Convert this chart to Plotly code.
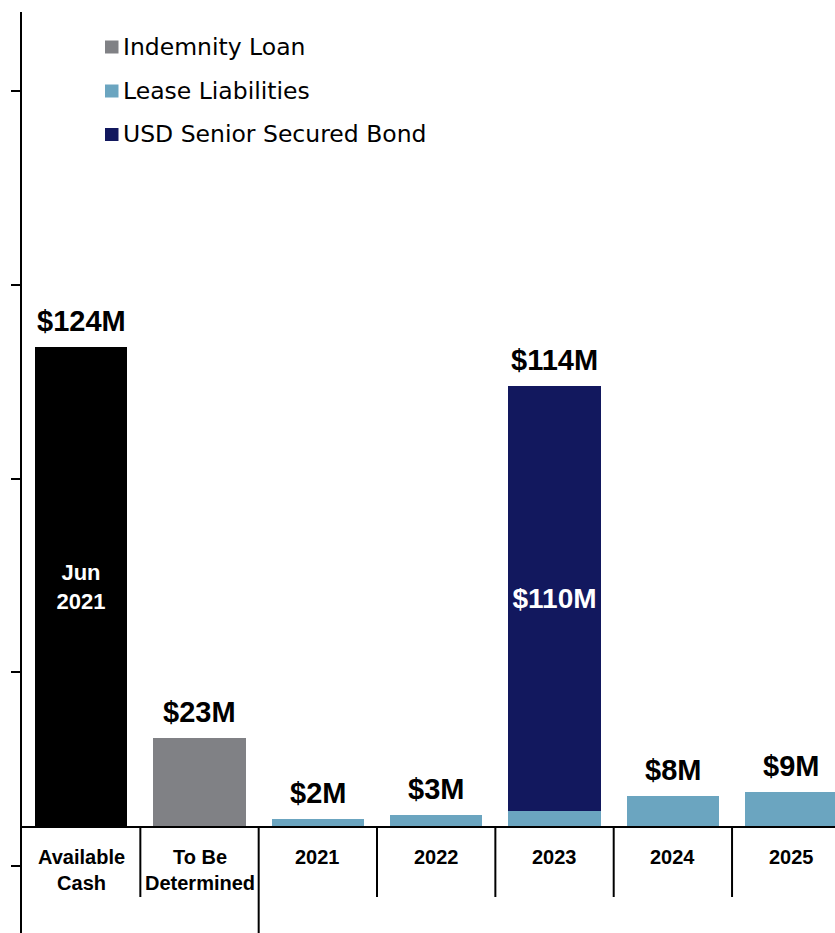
import plotly.graph_objects as go

# Categories along the x axis
categories = ["Available Cash", "To Be Determined", "2021", "2022", "2023", "2024", "2025"]
category_labels = ["Available<br>Cash", "To Be<br>Determined", "2021", "2022", "2023", "2024", "2025"]

# Values in $M
cash_x = ["Available Cash"]
cash_vals = [124]
indemnity_x = ["To Be Determined"]
indemnity_vals = [23]
lease_x = ["2021", "2022", "2023", "2024", "2025"]
lease_vals = [2, 3, 4, 8, 9]
bond_x = ["2023"]
bond_vals = [110]

legend_names = ["Indemnity Loan", "Lease Liabilities", "USD Senior Secured Bond"]

C_CASH = "#000000"
C_INDEM = "#808185"
C_LEASE = "#6BA5C0"
C_BOND = "#12185E"

FONT = "Liberation Sans, Arial, sans-serif"
LEGEND_FONT = "DejaVu Sans, Verdana, sans-serif"
W, H = 835, 933
ML, MT = 22, 12
Y_MIN, Y_MAX = -27.4, 210.5
X_MIN, X_MAX = -0.5, 6.37
BAR_W = 0.78

fig = go.Figure()
fig.add_trace(go.Bar(x=cash_x, y=cash_vals, marker=dict(color=C_CASH, line=dict(width=0)),
                     width=BAR_W, text=["Jun<br>2021"], textposition="inside",
                     insidetextanchor="middle", textangle=0,
                     textfont=dict(color="white", size=22, family=FONT, weight="bold"),
                     name="Available Cash", showlegend=False))
fig.add_trace(go.Bar(x=indemnity_x, y=indemnity_vals, marker=dict(color=C_INDEM, line=dict(width=0)),
                     width=BAR_W, name=legend_names[0], showlegend=False))
fig.add_trace(go.Bar(x=lease_x, y=lease_vals, marker=dict(color=C_LEASE, line=dict(width=0)),
                     width=BAR_W, name=legend_names[1], showlegend=False))
fig.add_trace(go.Bar(x=bond_x, y=bond_vals, marker=dict(color=C_BOND, line=dict(width=0)),
                     width=BAR_W, text=[f"${v}M" for v in bond_vals], textposition="inside",
                     insidetextanchor="middle", textangle=0,
                     textfont=dict(color="white", size=28, family=FONT, weight="bold"),
                     name=legend_names[2], showlegend=False))

# Totals per category for the value labels above each stack
totals = {c: 0 for c in categories}
for xs, vs in [(cash_x, cash_vals), (indemnity_x, indemnity_vals), (lease_x, lease_vals), (bond_x, bond_vals)]:
    for x, v in zip(xs, vs):
        totals[x] += v

annotations = []
# annotations on a category axis are placed by category index
for i, c in enumerate(categories):
    annotations.append(dict(x=i, y=totals[c], xref="x", yref="y", text=f"<b>${totals[c]}M</b>",
                            showarrow=False, yanchor="middle", yshift=26,
                            font=dict(size=29, color="black", family=FONT)))

# Category labels under the baseline
for i, lab in enumerate(category_labels):
    annotations.append(dict(x=i, y=-4.5, xref="x", yref="y", text=f"<b>{lab}</b>",
                            showarrow=False, yanchor="top", align="center",
                            font=dict(size=20, color="black", family=FONT)))


def px_x(p):
    return (p - ML) / (W - ML)


def px_y(p):
    return (H - p) / (H - MT)


shapes = []
# Baseline
shapes.append(dict(type="line", xref="x domain", yref="y", x0=0, x1=1, y0=0, y1=0,
                   line=dict(color="black", width=2)))
# Category dividers below the baseline
for i in range(len(categories) - 1):
    bottom = Y_MIN if i == 1 else -18.1
    shapes.append(dict(type="line", xref="x", yref="y", x0=i + 0.5, x1=i + 0.5, y0=0, y1=bottom,
                       line=dict(color="black", width=2)))

# Legend
legend_colors = [C_INDEM, C_LEASE, C_BOND]
legend_rows = [47, 91, 134.5]
for name, col, yc in zip(legend_names, legend_colors, legend_rows):
    shapes.append(dict(type="rect", xref="paper", yref="paper",
                       x0=px_x(105), x1=px_x(118.5), y0=px_y(yc + 6.5), y1=px_y(yc - 6.5),
                       fillcolor=col, line=dict(width=0)))
    annotations.append(dict(x=px_x(121), y=px_y(yc), xref="paper", yref="paper", text=name,
                            showarrow=False, xanchor="left", yanchor="middle",
                            font=dict(size=23.5, color="black", family=LEGEND_FONT)))

fig.update_layout(
    width=W, height=H,
    margin=dict(l=ML, r=0, t=MT, b=0),
    paper_bgcolor="white", plot_bgcolor="white",
    barmode="stack", bargap=0,
    showlegend=False,
    xaxis=dict(type="category", categoryorder="array", categoryarray=categories,
               range=[X_MIN, X_MAX], showticklabels=False, showgrid=False,
               zeroline=False, showline=False, ticks=""),
    yaxis=dict(range=[Y_MIN, Y_MAX], showline=True, linecolor="black", linewidth=2,
               ticks="outside", ticklen=9, tickwidth=1.5, tickcolor="black",
               tickvals=[-10, 40, 90, 140, 190], showticklabels=False,
               showgrid=False, zeroline=False),
    shapes=shapes,
    annotations=annotations,
    uniformtext=dict(mode=False),
)

fig.write_html("out.html")
